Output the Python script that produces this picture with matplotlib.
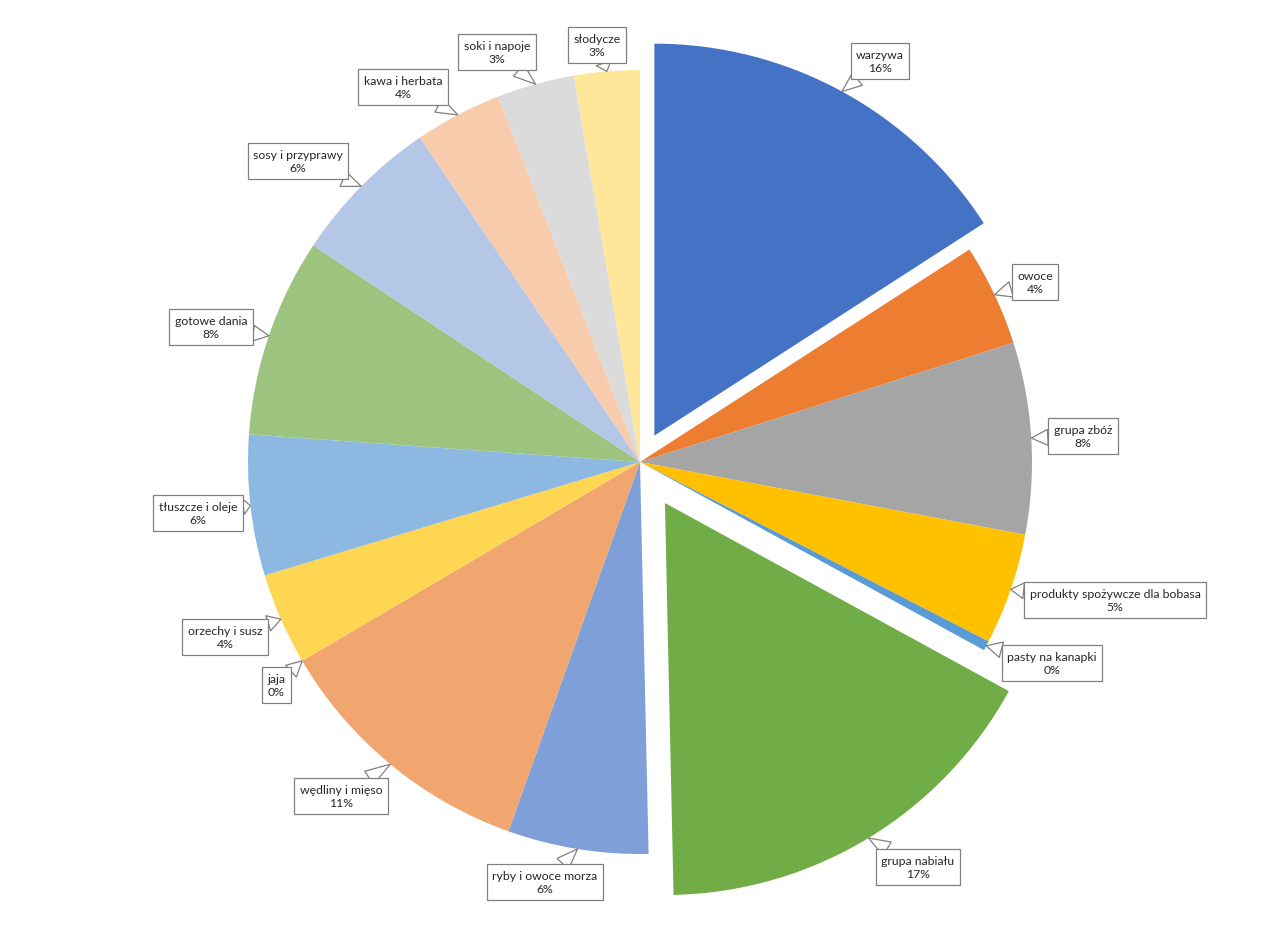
import matplotlib.pyplot as plt
import numpy as np

# kategorie i udzialy
categories = ["warzywa", "owoce", "grupa zbóż", "produkty spożywcze dla bobasa",
              "pasty na kanapki", "grupa nabiału", "ryby i owoce morza",
              "wędliny i mięso", "jaja", "orzechy i susz", "tłuszcze i oleje",
              "gotowe dania", "sosy i przyprawy", "kawa i herbata",
              "soki i napoje", "słodycze"]
shares = [15.9, 4.2, 7.9, 4.6, 0.4, 16.7, 5.8, 11.1, 0.0, 3.8, 5.8, 8.2,
          6.2, 3.6, 3.2, 2.7]

colors = ["#4472C4", "#ED7D31", "#A5A5A5", "#FFC000", "#5B9BD5", "#70AD47",
          "#7F9FD8", "#F0A66E", "#C9C9C9", "#FFD652", "#8DB8E2", "#9DC47E",
          "#B4C7E7", "#F7CBAC", "#DBDBDB", "#FFE699"]

W, H = 1280, 928
cx, cy, R = 640, H - 463, 392

# wysuniecie wycinkow w pikselach
explode = [30, 0, 0, 0, 0, 48, 0, 0, 0, 0, 0, 0, 0, 0, 0, 0]

# pozycje etykiet (piksele obrazka, srodek ramki)
label_pos = [(880, 62), (1035, 283), (1083, 437), (1115, 601), (1052, 664),
             (918, 868), (545, 883), (341, 797), (276, 686), (225, 638),
             (198, 514), (211, 328), (298, 162), (403, 88), (497, 53),
             (597, 46)]

fig = plt.figure(figsize=(12.8, 9.28), dpi=100)
ax = fig.add_axes([0, 0, 1, 1])

wedges, _ = ax.pie(shares, colors=colors, explode=explode, startangle=90,
                   counterclock=False, center=(cx, cy), radius=R,
                   wedgeprops=dict(linewidth=0))
ax.set_xlim(0, W)
ax.set_ylim(0, H)
ax.set_aspect("equal")
ax.axis("off")

total = sum(shares)
for w, name, val, (lx, ly) in zip(wedges, categories, shares, label_pos):
    mid = np.deg2rad((w.theta1 + w.theta2) / 2)
    wx, wy = w.center
    anchor = (wx + R * np.cos(mid), wy + R * np.sin(mid))
    pct = round(val / total * 100)
    ax.annotate(f"{name}\n{pct}%", xy=anchor, xytext=(lx, H - ly),
                ha="center", va="center", fontsize=8.8, family="Lato",
                color="#262626", linespacing=1.25,
                bbox=dict(boxstyle="square,pad=0.45", fc="white",
                          ec="#808080", lw=0.9),
                arrowprops=dict(arrowstyle="wedge,tail_width=1.3,shrink_factor=0.5",
                                fc="white", ec="#808080", lw=0.9,
                                shrinkA=0, shrinkB=0))

fig.savefig("out.png", dpi=100, facecolor="white")
